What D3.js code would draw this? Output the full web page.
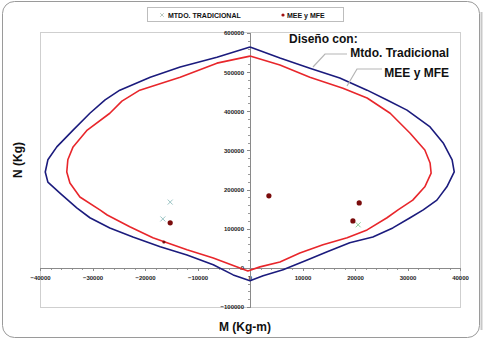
<meta charset="utf-8">
<style>
body { margin: 0; background: #fff; }
text { font-family: "Liberation Sans", Arial, sans-serif; }
.axis path, .axis line { fill: none; stroke: #8a8a8a; stroke-width: 1; shape-rendering: crispEdges; }
.axis text { font-size: 6px; font-weight: bold; fill: #222; }
</style>
<body>
<div id="chart"></div>
<script src="https://cdn.jsdelivr.net/npm/d3@7"></script>
<script>
// interaction diagram, [M (Kg-m), N (Kg)]
var curveTradicional = [
  [0, 564000], [5700, 536000], [11400, 510000], [17100, 485000], [22300, 454000],
  [26100, 429000], [29900, 403000], [34300, 360000], [36800, 319000], [38500, 276000],
  [38900, 245000], [37500, 207000], [35600, 173000], [33000, 148000], [30500, 128000],
  [27200, 102000], [23400, 79000], [19000, 64000], [14700, 41000], [10900, 20000],
  [6300, -5000], [2500, -20000], [0, -33000], [-3200, -18000], [-7000, 8000],
  [-12000, 33000], [-17100, 54000], [-22300, 79000], [-26700, 102000], [-30500, 128000],
  [-33000, 153000], [-36200, 191000], [-38500, 219000], [-39000, 245000], [-38500, 276000],
  [-36800, 309000], [-33700, 352000], [-30500, 395000], [-27600, 429000], [-24800, 454000],
  [-19000, 487000], [-13300, 513000], [-6300, 538000], [0, 564000]
];
var curveMEE = [
  [0, 541000], [5700, 518000], [11400, 487000], [17700, 459000], [22300, 434000],
  [26700, 395000], [30500, 344000], [33300, 301000], [34300, 268000], [34500, 242000],
  [33300, 207000], [31000, 173000], [28200, 148000], [26100, 128000], [22300, 97000],
  [18500, 77000], [13900, 59000], [9500, 38000], [5700, 15000], [1900, 2500],
  [-400, -8000], [-3200, 6000], [-7000, 25000], [-12000, 46000], [-15800, 64000],
  [-18500, 77000], [-22900, 105000], [-27200, 135000], [-28600, 148000], [-32400, 181000],
  [-34300, 217000], [-34900, 245000], [-34700, 276000], [-33700, 309000], [-31000, 352000],
  [-26700, 395000], [-24400, 426000], [-21000, 454000], [-13300, 487000], [-6300, 523000],
  [0, 541000]
];
var puntosTradicional = [[-15200, 168000], [-16600, 125000], [20600, 110000]];
var puntosMEE = [[-15200, 115000], [3600, 184000], [20800, 166000], [19600, 120000]];
var puntosMEEchicos = [[-16400, 66000]];

var xTicks = [-40000, -30000, -20000, -10000, 0, 10000, 20000, 30000, 40000];
var yTicks = [-100000, 0, 100000, 200000, 300000, 400000, 500000, 600000];

var W = 485, H = 341;
var svg = d3.select("#chart").append("svg").attr("width", W).attr("height", H);

// outer frame
svg.append("rect").attr("x", 2.5).attr("y", 1.5).attr("width", 477).attr("height", 336)
  .attr("rx", 12).attr("fill", "#fff").attr("stroke", "#9a9a9a");
svg.append("line").attr("x1", 481.5).attr("x2", 481.5).attr("y1", 12).attr("y2", 330)
  .attr("stroke", "#c8c8c8").attr("stroke-width", 2);

var x = d3.scaleLinear().domain([-40000, 40000]).range([40, 460]);
var y = d3.scaleLinear().domain([-100000, 600000]).range([307, 33]);

// plot area box
svg.append("rect").attr("x", 40.5).attr("y", 32.5).attr("width", 420).attr("height", 275)
  .attr("fill", "none").attr("stroke", "#cfcfcf");

// minor ticks
var xMinor = d3.range(-40000, 40001, 2000);
var yMinor = d3.range(-100000, 600001, 20000);
svg.append("g").selectAll("line").data(xMinor).enter().append("line")
  .attr("x1", function(d) { return Math.round(x(d)) + 0.5; })
  .attr("x2", function(d) { return Math.round(x(d)) + 0.5; })
  .attr("y1", Math.round(y(0))).attr("y2", Math.round(y(0)) + 2)
  .attr("stroke", "#9a9a9a");
svg.append("g").selectAll("line").data(yMinor).enter().append("line")
  .attr("y1", function(d) { return Math.round(y(d)) + 0.5; })
  .attr("y2", function(d) { return Math.round(y(d)) + 0.5; })
  .attr("x1", Math.round(x(0)) - 2).attr("x2", Math.round(x(0)))
  .attr("stroke", "#9a9a9a");

svg.append("g").attr("class", "axis")
  .attr("transform", "translate(0," + y(0) + ")")
  .call(d3.axisBottom(x).tickValues(xTicks).tickSize(3).tickPadding(5).tickFormat(d3.format("d")));
svg.append("g").attr("class", "axis")
  .attr("transform", "translate(" + x(0) + ",0)")
  .call(d3.axisLeft(y).tickValues(yTicks).tickSize(3).tickPadding(3).tickFormat(d3.format("d")));

var line = d3.line()
  .x(function(d) { return x(d[0]); })
  .y(function(d) { return y(d[1]); });

svg.append("path").datum(curveTradicional).attr("d", line)
  .attr("fill", "none").attr("stroke", "#1b1b7d").attr("stroke-width", 1.6).attr("stroke-linejoin", "round");
svg.append("path").datum(curveMEE).attr("d", line)
  .attr("fill", "none").attr("stroke", "#e8262b").attr("stroke-width", 1.6).attr("stroke-linejoin", "round");

// points
function cross(g, cx, cy, s, col) {
  g.append("path")
    .attr("d", "M" + (cx - s) + "," + (cy - s) + "L" + (cx + s) + "," + (cy + s) +
               "M" + (cx - s) + "," + (cy + s) + "L" + (cx + s) + "," + (cy - s))
    .attr("stroke", col).attr("stroke-width", 1);
}
var pts = svg.append("g");
puntosTradicional.forEach(function(d, i) {
  cross(pts, x(d[0]), y(d[1]), 2.5, i == 2 ? "#8ccf9a" : "#9cc5c5");
});
pts.selectAll(".mee").data(puntosMEE).enter().append("circle")
  .attr("cx", function(d) { return x(d[0]); })
  .attr("cy", function(d) { return y(d[1]); })
  .attr("r", 2.6).attr("fill", "#7a0c0c");
pts.selectAll(".meeS").data(puntosMEEchicos).enter().append("circle")
  .attr("cx", function(d) { return x(d[0]); })
  .attr("cy", function(d) { return y(d[1]); })
  .attr("r", 1.6).attr("fill", "#7a0c0c");

// legend
svg.append("rect").attr("x", 147.5).attr("y", 7.5).attr("width", 196).attr("height", 14)
  .attr("fill", "#fff").attr("stroke", "#bdbdbd");
cross(svg, 162, 15, 1.8, "#b8c8c0");
svg.append("text").attr("x", 168).attr("y", 17.5).text("MTDO. TRADICIONAL")
  .style("font-size", "7px").style("font-weight", "bold").style("fill", "#111");
svg.append("circle").attr("cx", 283).attr("cy", 15).attr("r", 1.6).attr("fill", "#a01010");
svg.append("text").attr("x", 287).attr("y", 17.5).text("MEE y MFE")
  .style("font-size", "7px").style("font-weight", "bold").style("fill", "#111");

// annotations
svg.append("text").attr("x", 289).attr("y", 43).text("Diseño  con:")
  .style("font-size", "12px").style("font-weight", "bold").style("fill", "#111");
svg.append("text").attr("x", 449).attr("y", 57).attr("text-anchor", "end").text("Mtdo. Tradicional")
  .style("font-size", "12px").style("font-weight", "bold").style("fill", "#111");
svg.append("text").attr("x", 449).attr("y", 77).attr("text-anchor", "end").text("MEE y MFE")
  .style("font-size", "12px").style("font-weight", "bold").style("fill", "#111");
svg.append("path").attr("d", "M347,54L325,54L313,67")
  .attr("fill", "none").attr("stroke", "#b5b5b5").attr("stroke-width", 1.2);
svg.append("path").attr("d", "M382,69L357,69L347,86")
  .attr("fill", "none").attr("stroke", "#b5b5b5").attr("stroke-width", 1.2);

// axis titles
svg.append("text").attr("transform", "translate(22,160) rotate(-90)")
  .attr("text-anchor", "middle").text("N (Kg)")
  .style("font-size", "12px").style("font-weight", "bold").style("fill", "#111");
svg.append("text").attr("x", 245).attr("y", 331).attr("text-anchor", "middle").text("M (Kg-m)")
  .style("font-size", "12px").style("font-weight", "bold").style("fill", "#111");
</script>
</body>
